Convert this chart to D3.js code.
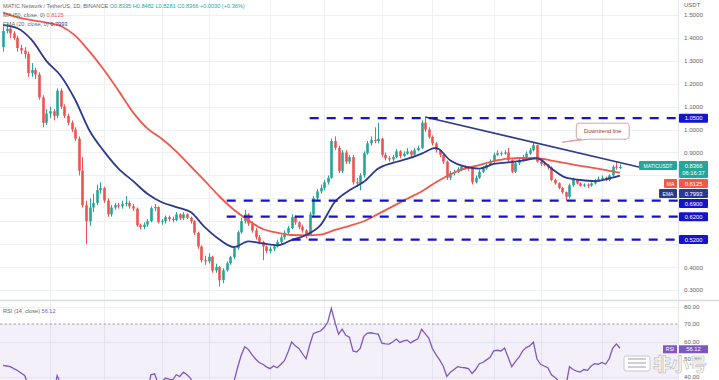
<!DOCTYPE html>
<html>
<head>
<meta charset="utf-8">
<script src="https://cdn.jsdelivr.net/npm/d3@7"></script>
<style>
  body { margin: 0; background: #fff; }
  svg { display: block; font-family: "Liberation Sans", Arial, sans-serif; }
</style>
</head>
<body>
<div id="chart"></div>
<script>
// daily candles, MATIC/USDT (Binance), first candle 2022-04-18
var startDate = "2022-04-18";
var firstOpen = 1.36;

var closes = [1.43,1.44,1.42,1.40,1.356,1.345,1.33,1.247,1.26,1.24,
  1.14,1.03,1.07,1.08,1.06,1.17,1.10,1.06,1.03,1.00,
  0.96,0.82,0.67,0.60,0.66,0.68,0.736,0.745,0.69,0.63,
  0.66,0.67,0.665,0.675,0.68,0.665,0.655,0.583,0.575,0.585,
  0.60,0.657,0.662,0.596,0.60,0.618,0.61,0.605,0.63,0.613,
  0.63,0.615,0.60,0.55,0.49,0.43,0.425,0.445,0.385,0.40,
  0.343,0.386,0.417,0.443,0.483,0.552,0.60,0.63,0.59,0.56,
  0.53,0.51,0.49,0.47,0.48,0.49,0.51,0.53,0.55,0.57,
  0.618,0.595,0.575,0.56,0.54,0.63,0.70,0.73,0.745,0.77,
  0.79,0.95,0.92,0.82,0.90,0.86,0.88,0.77,0.765,0.80,
  0.897,0.94,0.955,0.95,0.96,0.89,0.875,0.87,0.88,0.905,
  0.885,0.895,0.905,0.89,0.91,0.92,1.03,1.00,0.968,0.94,
  0.91,0.89,0.86,0.79,0.81,0.815,0.827,0.838,0.835,0.83,
  0.77,0.79,0.816,0.83,0.845,0.86,0.89,0.897,0.895,0.90,
  0.867,0.816,0.853,0.865,0.88,0.895,0.91,0.932,0.86,0.85,
  0.845,0.835,0.78,0.766,0.745,0.727,0.707,0.757,0.78,0.765,
  0.755,0.76,0.755,0.765,0.78,0.785,0.79,0.78,0.80,0.838,
  0.8335,0.8366];

var highs = [1.45,1.46,1.45,1.43,1.41,1.37,1.36,1.34,1.29,1.27,
  1.25,1.15,1.09,1.10,1.09,1.18,1.18,1.11,1.07,1.04,
  1.01,0.97,0.88,0.69,0.70,0.72,0.76,0.77,0.75,0.70,
  0.67,0.68,0.68,0.69,0.71,0.69,0.675,0.66,0.59,0.595,
  0.61,0.665,0.675,0.665,0.61,0.625,0.625,0.62,0.64,0.635,
  0.64,0.635,0.62,0.605,0.555,0.495,0.45,0.46,0.45,0.415,
  0.405,0.395,0.425,0.45,0.49,0.56,0.615,0.65,0.635,0.60,
  0.57,0.54,0.515,0.495,0.49,0.50,0.52,0.54,0.56,0.58,
  0.63,0.625,0.60,0.585,0.565,0.64,0.71,0.74,0.76,0.78,
  0.80,0.96,0.97,0.93,0.91,0.91,0.89,0.89,0.79,0.81,
  0.905,0.95,0.97,1.01,1.03,0.965,0.90,0.885,0.89,0.915,
  0.91,0.905,0.92,0.91,0.92,0.93,1.04,1.055,1.01,0.975,
  0.945,0.915,0.895,0.865,0.82,0.825,0.835,0.845,0.845,0.84,
  0.835,0.80,0.825,0.84,0.855,0.87,0.90,0.91,0.905,0.91,
  0.92,0.87,0.86,0.875,0.89,0.905,0.92,0.945,0.935,0.865,
  0.86,0.85,0.84,0.785,0.77,0.75,0.73,0.765,0.79,0.785,
  0.77,0.765,0.765,0.77,0.785,0.795,0.80,0.795,0.805,0.845,
  0.86,0.8482];

var lows = [1.34,1.42,1.40,1.39,1.34,1.33,1.31,1.23,1.23,1.22,
  1.13,1.01,1.02,1.05,1.04,1.05,1.09,1.05,1.02,0.99,
  0.95,0.80,0.66,0.50,0.58,0.64,0.67,0.72,0.68,0.62,
  0.62,0.65,0.655,0.655,0.665,0.655,0.645,0.575,0.565,0.565,
  0.575,0.595,0.645,0.59,0.585,0.59,0.60,0.595,0.60,0.605,
  0.605,0.61,0.59,0.54,0.48,0.42,0.41,0.415,0.375,0.375,
  0.315,0.33,0.38,0.41,0.435,0.475,0.545,0.59,0.58,0.55,
  0.52,0.50,0.43,0.46,0.46,0.47,0.485,0.50,0.52,0.54,
  0.565,0.585,0.565,0.55,0.525,0.535,0.62,0.69,0.72,0.735,
  0.76,0.785,0.91,0.81,0.81,0.85,0.85,0.76,0.75,0.735,
  0.79,0.89,0.93,0.94,0.94,0.88,0.865,0.86,0.86,0.875,
  0.875,0.88,0.89,0.88,0.885,0.905,0.915,0.99,0.96,0.93,
  0.90,0.88,0.85,0.78,0.78,0.80,0.81,0.82,0.825,0.82,
  0.76,0.765,0.785,0.81,0.825,0.84,0.855,0.885,0.885,0.89,
  0.86,0.81,0.81,0.845,0.86,0.875,0.89,0.905,0.855,0.84,
  0.84,0.825,0.775,0.76,0.74,0.72,0.69,0.70,0.75,0.76,
  0.75,0.75,0.745,0.75,0.76,0.775,0.78,0.775,0.775,0.795,
  0.825,0.8281];

var rsi = [46.4,46,45.6,44.5,43.4,42,40.6,35,37,36,
  30,26,30,31,30,40.5,36,33,31,29,
  27,22,17,15,24,26,30,31,28,25,
  28,29,29,30,31,30,30,26,26,28,
  30,41,41.5,36,37,39,38.5,38,41,40,
  42.5,41,39,33,28,24,24,26,22,24,
  21,26,29,32,37,45,52,57,55.5,52.5,
  50,48,47,45.5,44.5,46,45,47,49,54,
  59.7,57.5,56,53,50.1,58,64.5,65.4,66,68,
  71,78.9,71,64.2,67,63.5,62.5,54.6,54,56,
  63,64.8,65,64.5,64.2,59,58.6,58.5,59.7,61.4,
  59.5,60.3,60.8,59.2,60.5,61.5,67,64.5,62,56,
  52.5,49.5,46,40,42.5,44,45.6,45.2,45,44.5,
  41.7,44,47.3,48,49.5,51,54.6,55,54.6,56.3,
  51,45.6,48.5,51,54.5,56.5,57.5,59.7,50,47,
  46,45,41,39.5,37.5,36,34.5,45.6,44,43,
  42.5,44,43.5,46,47.3,47,48,47,50.1,56.3,
  58.6,56.12];

// moving averages every 4 candles
var lineIdx = [0,4,8,12,16,20,24,28,32,36,40,44,48,52,56,60,64,68,72,76,80,84,
  88,92,96,100,104,108,112,116,120,124,128,132,136,140,144,148,152,156,160,164,168,171];
var ma50 = [1.51,1.49,1.478,1.467,1.452,1.41,1.34,1.26,1.17,1.076,1.005,0.96,0.905,0.84,
  0.775,0.708,0.65,0.604,0.566,0.55,0.54,0.539,0.542,0.562,0.58,0.60,0.632,0.665,0.698,
  0.73,0.77,0.805,0.83,0.845,0.862,0.873,0.876,0.875,0.865,0.854,0.842,0.832,0.82,0.8125];
var ema20 = [1.456,1.442,1.39,1.30,1.235,1.13,0.995,0.905,0.83,0.776,0.72,0.683,0.662,0.64,
  0.573,0.52,0.487,0.512,0.503,0.495,0.518,0.54,0.583,0.685,0.735,0.772,0.83,0.855,0.872,
  0.895,0.92,0.865,0.838,0.83,0.85,0.857,0.865,0.875,0.83,0.79,0.78,0.775,0.787,0.7993];

var levels = [1.05, 0.69, 0.62, 0.52];
var levelFrom = [85, 62, 62, 80];
var trendIdx = [117, 176.5];
var trendVal = [1.055, 0.836];

var priceTicks = [0.3,0.4,0.5,0.6,0.7,0.8,0.9,1.0,1.1,1.2,1.3,1.4,1.5];
var rsiTicks = [80, 70, 60, 50, 40];
var gridDates = ["2022-05-01","2022-05-16","2022-06-01","2022-06-14","2022-07-01","2022-07-16",
  "2022-08-01","2022-08-15","2022-09-01","2022-09-14","2022-10-01"];

var upColor = "#26a69a", downColor = "#ef5350";
var maColor = "#f0584a", emaColor = "#2c3a8c", levelColor = "#1414c8", rsiColor = "#7e57c2";

var W = 719, H = 380, plotRight = 678, paneBottom = 300;

var parse = d3.timeParse("%Y-%m-%d");
var start = parse(startDate);

var candles = closes.map(function(c, i) {
  return {i: i, o: i === 0 ? firstOpen : closes[i - 1], h: highs[i], l: lows[i], c: c};
});

var x = d3.scaleLinear().domain([0, 171]).range([3, 620]);
var y = d3.scaleLinear().domain([0.3, 1.5]).range([290, 15]);
var yr = d3.scaleLinear().domain([40, 80]).range([376.5, 306.5]);

var svg = d3.select("#chart")
  .append("svg")
    .attr("width", W)
    .attr("height", H);

svg.append("rect").attr("width", W).attr("height", H).attr("fill", "#fff");

var defs = svg.append("defs");
defs.append("clipPath").attr("id", "clipPrice")
  .append("rect").attr("x", 0).attr("y", 0).attr("width", plotRight).attr("height", paneBottom);
defs.append("clipPath").attr("id", "clipRsi")
  .append("rect").attr("x", 0).attr("y", paneBottom + 1).attr("width", plotRight).attr("height", H - paneBottom);

// grid
var grid = svg.append("g").attr("stroke", "#eef0f4").attr("stroke-width", 1);
grid.selectAll(".hg")
  .data(priceTicks)
  .enter().append("line")
    .attr("x1", 0).attr("x2", plotRight)
    .attr("y1", function(d) { return Math.round(y(d)) + 0.5; })
    .attr("y2", function(d) { return Math.round(y(d)) + 0.5; });
grid.selectAll(".vg")
  .data(gridDates)
  .enter().append("line")
    .attr("x1", function(d) { return Math.round(x(d3.timeDay.count(start, parse(d)))) + 0.5; })
    .attr("x2", function(d) { return Math.round(x(d3.timeDay.count(start, parse(d)))) + 0.5; })
    .attr("y1", 0).attr("y2", H);
grid.selectAll(".rg")
  .data([80, 60, 40])
  .enter().append("line")
    .attr("x1", 0).attr("x2", plotRight)
    .attr("y1", function(d) { return Math.round(yr(d)) + 0.5; })
    .attr("y2", function(d) { return Math.round(yr(d)) + 0.5; });

// price pane
var price = svg.append("g").attr("clip-path", "url(#clipPrice)");

price.selectAll(".wick")
  .data(candles)
  .enter().append("line")
    .attr("x1", function(d) { return Math.round(x(d.i)) + 0.5; })
    .attr("x2", function(d) { return Math.round(x(d.i)) + 0.5; })
    .attr("y1", function(d) { return y(d.h); })
    .attr("y2", function(d) { return y(d.l); })
    .attr("stroke", function(d) { return d.c >= d.o ? upColor : downColor; })
    .attr("stroke-width", 1);

price.selectAll(".body")
  .data(candles)
  .enter().append("rect")
    .attr("x", function(d) { return Math.round(x(d.i)) - 0.8; })
    .attr("width", 2.6)
    .attr("y", function(d) { return y(Math.max(d.o, d.c)); })
    .attr("height", function(d) { return Math.max(1, Math.abs(y(d.o) - y(d.c))); })
    .attr("fill", function(d) { return d.c >= d.o ? upColor : downColor; });

var avgLine = d3.line()
  .x(function(d) { return x(d[0]); })
  .y(function(d) { return y(d[1]); })
  .curve(d3.curveMonotoneX);

price.append("path")
  .datum(lineIdx.map(function(k, j) { return [k, ma50[j]]; }))
  .attr("d", avgLine)
  .attr("fill", "none").attr("stroke", maColor).attr("stroke-width", 1.8);

price.append("path")
  .datum(lineIdx.map(function(k, j) { return [k, ema20[j]]; }))
  .attr("d", avgLine)
  .attr("fill", "none").attr("stroke", emaColor).attr("stroke-width", 1.8);

// horizontal support / resistance levels
svg.selectAll(".level")
  .data(levels)
  .enter().append("line")
    .attr("x1", function(d, j) { return x(levelFrom[j]); })
    .attr("x2", plotRight)
    .attr("y1", function(d) { return y(d); })
    .attr("y2", function(d) { return y(d); })
    .attr("stroke", levelColor)
    .attr("stroke-width", 2.2)
    .attr("stroke-dasharray", "9,8");

// downtrend line
price.append("line")
  .attr("x1", x(trendIdx[0])).attr("y1", y(trendVal[0]))
  .attr("x2", x(trendIdx[1])).attr("y2", y(trendVal[1]))
  .attr("stroke", emaColor).attr("stroke-width", 1.6);

// callout
var tipX = x(155), tipY = y(0.945);
var bx = tipX + 14, by = tipY - 19, bw = 53, bh = 16;
svg.append("path")
  .attr("d", "M" + (bx + 3) + "," + by + " H" + (bx + bw - 3) + " Q" + (bx + bw) + "," + by + " " + (bx + bw) + "," + (by + 3) +
    " V" + (by + bh - 3) + " Q" + (bx + bw) + "," + (by + bh) + " " + (bx + bw - 3) + "," + (by + bh) +
    " H" + (bx + 12) + " L" + tipX + "," + tipY + " L" + (bx + 5) + "," + (by + bh) +
    " H" + (bx + 3) + " Q" + bx + "," + (by + bh) + " " + bx + "," + (by + bh - 3) +
    " V" + (by + 3) + " Q" + bx + "," + by + " " + (bx + 3) + "," + by + " Z")
  .attr("fill", "#fff").attr("stroke", "#dba0a0").attr("stroke-width", 1);
svg.append("text")
  .attr("x", bx + bw / 2).attr("y", by + bh / 2 + 2)
  .attr("text-anchor", "middle")
  .attr("font-size", 5.6).attr("fill", "#9a2f2f")
  .text("Downtrend line");

// pane separator + right axis border
svg.append("line").attr("x1", 0).attr("x2", W).attr("y1", paneBottom + 0.5).attr("y2", paneBottom + 0.5)
  .attr("stroke", "#d8dbe2").attr("stroke-width", 1.5);
svg.append("line").attr("x1", plotRight + 0.5).attr("x2", plotRight + 0.5).attr("y1", 0).attr("y2", H)
  .attr("stroke", "#e3e6ec");

// right axis tags, pushed down when they overlap
var last = candles[candles.length - 1];
var tags = [
  {v: 1.05, h: 9, fill: levelColor, lines: ["1.0500"]},
  {v: last.c, h: 17, fill: upColor, lines: ["0.8366", "06:16:37"], side: "MATICUSDT", sideW: 38, top: true},
  {v: 0.8125, h: 9, fill: maColor, lines: ["0.8125"], side: "MA", sideW: 13},
  {v: 0.7993, h: 9, fill: emaColor, lines: ["0.7993"], side: "EMA", sideW: 18},
  {v: 0.69, h: 9, fill: levelColor, lines: ["0.6900"]},
  {v: 0.62, h: 9, fill: levelColor, lines: ["0.6200"]},
  {v: 0.52, h: 9, fill: levelColor, lines: ["0.5200"]}
];
var prevBottom = -100;
tags.forEach(function(t) {
  var top = t.top ? y(t.v) - 6 : y(t.v) - t.h / 2;
  if (top < prevBottom + 1) top = prevBottom + 1;
  t.y0 = top;
  prevBottom = top + t.h;
});

// price axis (labels hidden where a tag sits on top of them)
var yAxis = svg.append("g")
  .attr("transform", "translate(" + plotRight + ",0)")
  .call(d3.axisRight(y).tickValues(priceTicks).tickFormat(d3.format(".4f")).tickSize(0).tickPadding(6));
yAxis.select(".domain").remove();
yAxis.selectAll("text").attr("font-size", 6.2).attr("fill", "#666").attr("font-family", "Liberation Sans, Arial, sans-serif");
yAxis.selectAll(".tick").filter(function(d) {
  var py = y(d);
  return tags.some(function(t) { return py > t.y0 - 3 && py < t.y0 + t.h + 3; });
}).remove();

svg.append("text").attr("x", 684).attr("y", 7).attr("font-size", 6).attr("fill", "#666").text("USDT");

// rsi pane
var rsiG = svg.append("g").attr("clip-path", "url(#clipRsi)");
rsiG.append("rect")
  .attr("x", 0).attr("width", plotRight)
  .attr("y", yr(70)).attr("height", H - yr(70))
  .attr("fill", rsiColor).attr("fill-opacity", 0.09);
rsiG.append("line")
  .attr("x1", 0).attr("x2", plotRight).attr("y1", yr(70)).attr("y2", yr(70))
  .attr("stroke", "#8a8d96").attr("stroke-width", 0.8).attr("stroke-dasharray", "2.5,2");
rsiG.append("path")
  .datum(rsi)
  .attr("d", d3.line().x(function(d, i) { return x(i); }).y(function(d) { return yr(d); }))
  .attr("fill", "none").attr("stroke", rsiColor).attr("stroke-width", 1.3);

var rAxis = svg.append("g")
  .attr("transform", "translate(" + plotRight + ",0)")
  .call(d3.axisRight(yr).tickValues(rsiTicks).tickFormat(d3.format(".2f")).tickSize(0).tickPadding(6));
rAxis.select(".domain").remove();
rAxis.selectAll("text").attr("font-size", 6.2).attr("fill", "#666").attr("font-family", "Liberation Sans, Arial, sans-serif");

// legends
var legend = svg.append("g").attr("font-size", 5.6).attr("fill", "#666");
var l1 = legend.append("text").attr("x", 3).attr("y", 8);
l1.append("tspan").text("MATIC Network / TetherUS, 1D, BINANCE ");
l1.append("tspan").attr("fill", upColor).text("O0.8335 H0.8482 L0.8281 C0.8366 +0.0030 (+0.36%)");
var l2 = legend.append("text").attr("x", 3).attr("y", 17);
l2.append("tspan").text("MA (50, close, 0) ");
l2.append("tspan").attr("fill", maColor).text("0.8125");
var l3 = legend.append("text").attr("x", 3).attr("y", 26);
l3.append("tspan").text("EMA (20, close, 0) ");
l3.append("tspan").attr("fill", emaColor).text("0.7993");
var l4 = legend.append("text").attr("x", 3).attr("y", 313);
l4.append("tspan").text("RSI (14, close) ");
l4.append("tspan").attr("fill", rsiColor).text("56.12");

var tagG = svg.append("g").attr("font-size", 5.8).attr("fill", "#fff");
tags.forEach(function(t) {
  tagG.append("rect").attr("x", 679).attr("y", t.y0).attr("width", 29).attr("height", t.h)
    .attr("rx", 1).attr("fill", t.fill);
  t.lines.forEach(function(s, k) {
    tagG.append("text").attr("x", 693.5).attr("y", t.y0 + 6.6 + k * 7.5)
      .attr("text-anchor", "middle").text(s);
  });
  if (t.side) {
    var lh = t.top ? 9 : t.h;
    tagG.append("rect").attr("x", 677 - t.sideW).attr("y", t.y0).attr("width", t.sideW).attr("height", lh)
      .attr("rx", 1).attr("fill", t.fill);
    tagG.append("text").attr("x", 677 - t.sideW / 2).attr("y", t.y0 + 6.6)
      .attr("text-anchor", "middle").attr("font-size", 5).text(t.side);
  }
});

// rsi tag
var ry = yr(rsi[rsi.length - 1]) + 1;
tagG.append("rect").attr("x", 663).attr("y", ry - 4).attr("width", 14).attr("height", 8).attr("fill", rsiColor);
tagG.append("text").attr("x", 670).attr("y", ry + 2).attr("text-anchor", "middle").attr("font-size", 5).text("RSI");
tagG.append("rect").attr("x", 679).attr("y", ry - 4).attr("width", 29).attr("height", 8).attr("fill", rsiColor);
tagG.append("text").attr("x", 693.5).attr("y", ry + 2).attr("text-anchor", "middle").text("56.12");

// watermark
var wm = svg.append("g").attr("opacity", 0.85);
wm.append("rect").attr("x", 624).attr("y", 356).attr("width", 26).attr("height", 15).attr("rx", 2)
  .attr("fill", "#fff").attr("stroke", "#b8b8b8").attr("stroke-width", 0.8);
wm.selectAll(".bar")
  .data([359, 363, 367])
  .enter().append("line")
    .attr("x1", 628).attr("x2", 646)
    .attr("y1", function(d) { return d; }).attr("y2", function(d) { return d; })
    .attr("stroke", "#b8b8b8").attr("stroke-width", 1.5);
wm.append("text")
  .attr("x", 653).attr("y", 371)
  .attr("font-family", "Noto Sans CJK SC, sans-serif")
  .attr("font-size", 18).attr("font-weight", "bold")
  .attr("fill", "#fff").attr("stroke", "#b0b0b0").attr("stroke-width", 0.7)
  .text("非小号");
</script>
</body>
</html>
